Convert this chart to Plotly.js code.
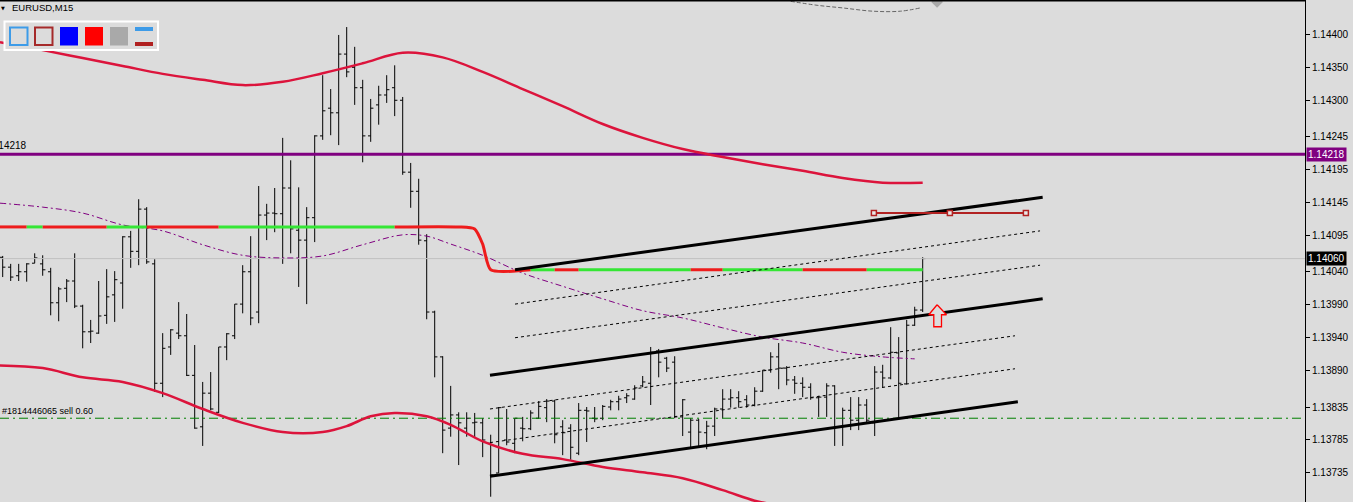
<!DOCTYPE html>
<html><head><meta charset="utf-8">
<script src="https://cdn.plot.ly/plotly-3.0.1.min.js"></script>
<style>html,body{margin:0;padding:0;background:#dcdcdc;overflow:hidden}#chart{width:1353px;height:502px}</style>
</head><body><div id="chart"></div>
<script>
// ---------- DATA ----------
const symbolLabel = "EURUSD,M15";
const orderLabel = "#1814446065 sell 0.60";

const openP = [1.14062,1.14047,1.14034,1.14040,1.14053,1.14052,1.14040,1.13993,1.14015,1.14026,
1.13988,1.13949,1.13947,1.13974,1.14005,1.14023,1.14093,1.14071,1.14135,1.14052,
1.13871,1.13926,1.13947,1.13943,1.13883,1.13805,1.13856,1.13827,1.13926,1.13943,
1.13991,1.14040,1.13979,1.14126,1.14129,1.14128,1.14167,1.14103,1.14088,1.14122,
1.14246,1.14288,1.14281,1.14370,1.14350,1.14319,1.14246,1.14293,1.14308,1.14319,
1.14300,1.14191,1.14162,1.14087,1.13979,1.13911,1.13803,1.13823,1.13803,1.13811,
1.13811,1.13780,1.13735,1.13785,1.13780,1.13803,1.13802,1.13818,1.13834,1.13844,
1.13805,1.13803,1.13765,1.13830,1.13818,1.13818,1.13835,1.13843,1.13849,1.13847,
1.13867,1.13871,1.13920,1.13909,1.13903,1.13820,1.13797,1.13815,1.13796,1.13806,
1.13832,1.13847,1.13849,1.13846,1.13838,1.13859,1.13891,1.13911,1.13894,1.13876,
1.13871,1.13865,1.13849,1.13850,1.13867,1.13805,1.13830,1.13815,1.13838,1.13811,
1.13888,1.13879,1.13917,1.13870,1.13959,1.13982];
const highP = [1.14064,1.14052,1.14052,1.14053,1.14068,1.14065,1.14046,1.14017,1.14029,1.14068,
1.13990,1.13967,1.14026,1.14044,1.14041,1.14094,1.14102,1.14150,1.14138,1.14059,
1.13947,1.13953,1.13994,1.13976,1.13929,1.13873,1.13888,1.13926,1.13947,1.13991,
1.14050,1.14094,1.14170,1.14143,1.14167,1.14243,1.14209,1.14168,1.14138,1.14247,
1.14338,1.14317,1.14399,1.14411,1.14381,1.14331,1.14302,1.14322,1.14338,1.14353,
1.14305,1.14205,1.14181,1.14097,1.13981,1.13912,1.13867,1.13827,1.13827,1.13826,
1.13818,1.13793,1.13835,1.13832,1.13818,1.13820,1.13830,1.13844,1.13847,1.13846,
1.13815,1.13809,1.13841,1.13835,1.13835,1.13838,1.13846,1.13852,1.13856,1.13868,
1.13882,1.13926,1.13923,1.13911,1.13912,1.13847,1.13818,1.13817,1.13814,1.13834,
1.13862,1.13862,1.13859,1.13853,1.13865,1.13891,1.13918,1.13932,1.13897,1.13882,
1.13880,1.13871,1.13852,1.13871,1.13868,1.13834,1.13850,1.13850,1.13847,1.13897,
1.13899,1.13956,1.13941,1.13967,1.13987,1.14062];
const lowP = [1.14032,1.14026,1.14026,1.14025,1.14053,1.14034,1.13974,1.13965,1.13994,1.13985,
1.13924,1.13932,1.13946,1.13961,1.13964,1.13984,1.14046,1.14050,1.14052,1.13858,
1.13850,1.13914,1.13938,1.13882,1.13802,1.13776,1.13830,1.13826,1.13906,1.13938,
1.13977,1.13959,1.13962,1.14088,1.14100,1.14052,1.14068,1.14017,1.13991,1.14085,
1.14240,1.14247,1.14232,1.14335,1.14293,1.14206,1.14237,1.14263,1.14296,1.14276,
1.14187,1.14137,1.14081,1.13968,1.13880,1.13765,1.13790,1.13747,1.13790,1.13788,
1.13759,1.13699,1.13735,1.13777,1.13765,1.13783,1.13800,1.13817,1.13812,1.13780,
1.13762,1.13755,1.13762,1.13782,1.13812,1.13815,1.13830,1.13830,1.13841,1.13846,
1.13865,1.13838,1.13880,1.13888,1.13818,1.13791,1.13774,1.13774,1.13771,1.13791,
1.13818,1.13834,1.13834,1.13834,1.13836,1.13858,1.13887,1.13862,1.13868,1.13855,
1.13850,1.13846,1.13820,1.13820,1.13776,1.13776,1.13800,1.13800,1.13811,1.13791,
1.13864,1.13877,1.13817,1.13870,1.13958,1.13979];
const closeP = [1.14047,1.14032,1.14040,1.14052,1.14061,1.14043,1.13993,1.14014,1.14026,1.13988,
1.13949,1.13950,1.13973,1.14002,1.14028,1.14093,1.14071,1.14135,1.14055,1.13871,
1.13924,1.13952,1.13943,1.13883,1.13803,1.13856,1.13832,1.13926,1.13946,1.13991,
1.14040,1.13970,1.14126,1.14129,1.14128,1.14167,1.14105,1.14088,1.14122,1.14246,
1.14284,1.14281,1.14370,1.14343,1.14319,1.14246,1.14288,1.14308,1.14316,1.14300,
1.14191,1.14162,1.14088,1.13979,1.13911,1.13800,1.13823,1.13811,1.13818,1.13812,
1.13785,1.13732,1.13834,1.13782,1.13818,1.13802,1.13826,1.13836,1.13844,1.13793,
1.13796,1.13774,1.13830,1.13829,1.13817,1.13836,1.13843,1.13847,1.13852,1.13864,
1.13873,1.13918,1.13903,1.13894,1.13820,1.13846,1.13815,1.13797,1.13806,1.13832,
1.13847,1.13849,1.13843,1.13838,1.13859,1.13891,1.13911,1.13894,1.13876,1.13871,
1.13865,1.13849,1.13850,1.13867,1.13805,1.13830,1.13815,1.13838,1.13815,1.13888,
1.13879,1.13918,1.13871,1.13959,1.13982,1.14060];

// Bollinger-type bands (bar index, price)
const upperBandIdx = [-0.34,5,10,15,20,25,30,35,40,45,50,55,60,65,70,75,80,85,90,95,100,105,110,115];
const upperBandVal = [1.14388,1.14376,1.14364,1.14352,1.14340,1.14331,1.14323,1.14328,1.14341,1.14356,1.14372,1.14365,1.14343,1.14317,1.14291,1.14264,1.14243,1.14226,1.14214,1.14203,1.14193,1.14182,1.14175,1.14175];
const lowerBandIdx = [-0.34,5,10,15,20,25,30,35,40,43,46,49,53,56,60,65,70,75,80,85,90,94,96];
const lowerBandVal = [1.13898,1.13894,1.13880,1.13873,1.13856,1.13832,1.13811,1.13797,1.13797,1.13806,1.13821,1.13826,1.13821,1.13808,1.13783,1.13764,1.13756,1.13744,1.13736,1.13727,1.13709,1.13693,1.13688];

// moving average (purple dash-dot)
const maIdx = [-0.34,5,10,15,20,25,30,35,40,45,50,53,56,60,65,70,75,80,85,90,95,100,105,110,114];
const maVal = [1.14144,1.14138,1.14129,1.14111,1.14102,1.14081,1.14065,1.14061,1.14064,1.14081,1.14096,1.14094,1.14082,1.14065,1.14038,1.14018,1.13999,1.13981,1.13970,1.13955,1.13941,1.13932,1.13918,1.13911,1.13908];

// two-colour trend line
const trendIdx = [-0.34,57,59,60,61,115];
const trendVal = [1.14108,1.14108,1.14105,1.14082,1.14043,1.14043];
const trendBreaks = [-0.34,3,5,13,18,27,49,66,69,72,86,90,100,108,115];
const trendColors = ["r","g","r","g","r","g","r","g","r","g","r","g","r","g"];

// horizontal levels
const resistanceLevel = 1.14218;
const currentPrice = 1.14060;
const orderLevel = 1.13818;

// channel (start idx, start price, end idx, end price)
const chanTop    = [64.04, 1.14043, 130.0, 1.14153];
const chanUpDot1 = [64.04, 1.13991, 129.67, 1.14102];
const chanUpDot2 = [64.04, 1.13940, 129.67, 1.14050];
const chanMid    = [60.91, 1.13883, 130.0, 1.13999];
const chanLoDot1 = [60.91, 1.13832, 126.54, 1.13943];
const chanLoDot2 = [60.91, 1.13781, 126.54, 1.13893];
const chanBottom = [60.91, 1.13730, 126.9, 1.13843];

// dark red handle line
const handleIdx = [108.9, 118.4, 127.9];
const handleVal = [1.14129, 1.14129, 1.14129];

// gray dashed arc near top
const arcIdx = [98.5,101.8,105.0,108.8,112.2,114.7];
const arcVal = [1.14450,1.14444,1.14440,1.14435,1.14435,1.14440];

// up arrow anchor (tip)
const arrowIdx = 116.8, arrowPrice = 1.13990;

// price axis labels
const tickPrices = [1.14400,1.14350,1.14300,1.14245,1.14195,1.14145,1.14095,1.14040,1.13990,1.13940,1.13890,1.13835,1.13785,1.13735];

// ---------- CHART ----------
const W = 1353, H = 502, R = 48, PW = W - R;
const xMin = -0.3375, xMax = 162.79;
const yMin = 1.13691, yMax = 1.14452;
const pxX = (xMax - xMin) / PW, pxY = (yMax - yMin) / H;
const P = x => x / PW, Q = y => 1 - y / H;
const FONT = "Liberation Sans, Arial, sans-serif";
const BG = "#dcdcdc";

const barIdx = openP.map((_, i) => i);
const traces = [];

function hline(level, color, width, dash) {
  traces.push({type:"scatter", mode:"lines", x:[xMin, xMax], y:[level, level],
    line:{color:color, width:width, dash:dash||"solid"}, hoverinfo:"skip", showlegend:false});
}
function seg(s, color, width, dash) {
  traces.push({type:"scatter", mode:"lines", x:[s[0], s[2]], y:[s[1], s[3]],
    line:{color:color, width:width, dash:dash||"solid"}, hoverinfo:"skip", showlegend:false});
}

hline(currentPrice, "#c0c0c0", 1);
hline(orderLevel, "#008000", 1, "9px,4px,2px,4px");
hline(resistanceLevel, "#800080", 3);

traces.push({type:"scatter", mode:"lines", x:upperBandIdx, y:upperBandVal,
  line:{color:"#dc143c", width:2.5, shape:"spline"}, hoverinfo:"skip"});
traces.push({type:"scatter", mode:"lines", x:lowerBandIdx, y:lowerBandVal,
  line:{color:"#dc143c", width:2.5, shape:"spline"}, hoverinfo:"skip"});
traces.push({type:"scatter", mode:"lines", x:maIdx, y:maVal,
  line:{color:"#800080", width:1, dash:"6px,3px,2px,3px", shape:"spline"}, hoverinfo:"skip"});

function trendAt(t) {
  for (let k = 0; k < trendIdx.length - 1; k++) {
    if (t >= trendIdx[k] && t <= trendIdx[k+1]) {
      const a = trendIdx[k], b = trendIdx[k+1];
      return trendVal[k] + (trendVal[k+1] - trendVal[k]) * (t - a) / (b - a);
    }
  }
  return trendVal[trendVal.length - 1];
}
for (let s = 0; s < trendColors.length; s++) {
  const a = trendBreaks[s], b = trendBreaks[s+1];
  const xs = [a], ys = [trendAt(a)];
  trendIdx.forEach((t, k) => { if (t > a && t < b) { xs.push(t); ys.push(trendVal[k]); } });
  xs.push(b); ys.push(trendAt(b));
  traces.push({type:"scatter", mode:"lines", x:xs, y:ys,
    line:{color: trendColors[s] === "r" ? "#ee1c1c" : "#35e635", width:3, shape:"spline", smoothing:0.6},
    hoverinfo:"skip"});
}

seg(chanUpDot1, "#000", 1, "3px,3px");
seg(chanUpDot2, "#000", 1, "3px,3px");
seg(chanLoDot1, "#000", 1, "3px,3px");
seg(chanLoDot2, "#000", 1, "3px,3px");

traces.push({type:"ohlc", x:barIdx, open:openP, high:highP, low:lowP, close:closeP,
  increasing:{line:{color:"#000", width:1}}, decreasing:{line:{color:"#000", width:1}},
  tickwidth:0.34, hoverinfo:"skip", showlegend:false});

seg(chanTop, "#000", 3);
seg(chanMid, "#000", 3);
seg(chanBottom, "#000", 3);

traces.push({type:"scatter", mode:"lines+markers", x:handleIdx, y:handleVal,
  line:{color:"#b22222", width:2}, marker:{symbol:"square", size:5, color:"#e8e8e8", line:{color:"#b22222", width:1.5}},
  hoverinfo:"skip"});

traces.push({type:"scatter", mode:"lines", x:arcIdx, y:arcVal,
  line:{color:"#666", width:1, dash:"4px,2px", shape:"spline"}, hoverinfo:"skip"});
traces.push({type:"scatter", mode:"markers", x:[116.8], y:[1.14449],
  marker:{symbol:"diamond", size:9, color:"#a8a8a8"}, hoverinfo:"skip"});

// hollow up arrow, built from its tip in pixel offsets
const arrowPx = [[0,0],[9.4,10],[4.4,10],[4.4,22],[-3.3,22],[-3.3,10],[-8.3,10],[0,0]];
traces.push({type:"scatter", mode:"lines",
  x: arrowPx.map(p => arrowIdx + p[0] * pxX), y: arrowPx.map(p => arrowPrice - p[1] * pxY),
  line:{color:"#ff0000", width:1.3}, fill:"toself", fillcolor:BG, hoverinfo:"skip"});

const shapes = [
  {type:"line", xref:"paper", yref:"paper", x0:0, x1:1, y0:Q(0.5), y1:Q(0.5), line:{color:"#000", width:2}},
  {type:"rect", xref:"paper", yref:"paper", x0:P(4.5), x1:P(158), y0:Q(21.5), y1:Q(50), line:{color:"#ffffff", width:2}, fillcolor:BG, layer:"above"},
  {type:"rect", xref:"paper", yref:"paper", x0:P(10), x1:P(27.5), y0:Q(27.5), y1:Q(45), line:{color:"#3d9be8", width:2}, fillcolor:"rgba(0,0,0,0)", layer:"above"},
  {type:"rect", xref:"paper", yref:"paper", x0:P(35), x1:P(52.5), y0:Q(27.5), y1:Q(45), line:{color:"#a52a2a", width:2}, fillcolor:"rgba(0,0,0,0)", layer:"above"},
  {type:"rect", xref:"paper", yref:"paper", x0:P(60), x1:P(78), y0:Q(27), y1:Q(45.5), line:{width:0}, fillcolor:"#0000ff", layer:"above"},
  {type:"rect", xref:"paper", yref:"paper", x0:P(85), x1:P(103), y0:Q(27), y1:Q(45.5), line:{width:0}, fillcolor:"#ff0000", layer:"above"},
  {type:"rect", xref:"paper", yref:"paper", x0:P(110), x1:P(128), y0:Q(27), y1:Q(45.5), line:{width:0}, fillcolor:"#a9a9a9", layer:"above"},
  {type:"rect", xref:"paper", yref:"paper", x0:P(135), x1:P(153), y0:Q(27), y1:Q(31), line:{width:0}, fillcolor:"#3d9be8", layer:"above"},
  {type:"rect", xref:"paper", yref:"paper", x0:P(135), x1:P(153), y0:Q(42), y1:Q(46), line:{width:0}, fillcolor:"#b02020", layer:"above"}
];

const annotations = [
  {xref:"paper", yref:"paper", x:P(10), y:Q(8), xanchor:"left", yanchor:"middle", showarrow:false,
   text:symbolLabel, font:{family:FONT, size:9.5, color:"#000"}},
  {xref:"paper", yref:"paper", x:P(3), y:Q(8), xanchor:"center", yanchor:"middle", showarrow:false,
   text:"\u25BC", font:{family:"DejaVu Sans", size:5, color:"#000"}},
  {xref:"paper", yref:"y", x:P(29), y:resistanceLevel, xanchor:"right", yanchor:"bottom", yshift:1, showarrow:false,
   text:resistanceLevel.toFixed(5), font:{family:FONT, size:10, color:"#000"}},
  {xref:"paper", yref:"y", x:0, y:orderLevel, xanchor:"left", yanchor:"bottom", xshift:0, yshift:0, showarrow:false,
   text:orderLabel, font:{family:FONT, size:9, color:"#000"}},
  {xref:"paper", yref:"y", x:1, y:resistanceLevel, xanchor:"left", yanchor:"middle", xshift:1, showarrow:false,
   text:resistanceLevel.toFixed(5), bgcolor:"#800080", borderpad:1, font:{family:FONT, size:10, color:"#fff"}},
  {xref:"paper", yref:"y", x:1, y:currentPrice, xanchor:"left", yanchor:"middle", xshift:1, showarrow:false,
   text:currentPrice.toFixed(5), bgcolor:"#000", borderpad:1, font:{family:FONT, size:10, color:"#fff"}}
];

const layout = {
  width:W, height:H, margin:{l:0, r:R, t:0, b:0},
  paper_bgcolor:BG, plot_bgcolor:BG, showlegend:false,
  xaxis:{range:[xMin, xMax], showgrid:false, zeroline:false, showticklabels:false, ticks:"",
    showline:false, rangeslider:{visible:false}, fixedrange:true},
  yaxis:{range:[yMin, yMax], side:"right", showgrid:false, zeroline:false, showline:true,
    linecolor:"#000", linewidth:1, ticks:"outside", ticklen:4, tickcolor:"#000",
    tickvals:tickPrices, ticktext:tickPrices.map(v => v.toFixed(5)),
    tickfont:{family:FONT, size:10, color:"#000"}, fixedrange:true},
  shapes:shapes, annotations:annotations
};

Plotly.newPlot("chart", traces, layout, {displayModeBar:false, staticPlot:true});
</script>
</body></html>
